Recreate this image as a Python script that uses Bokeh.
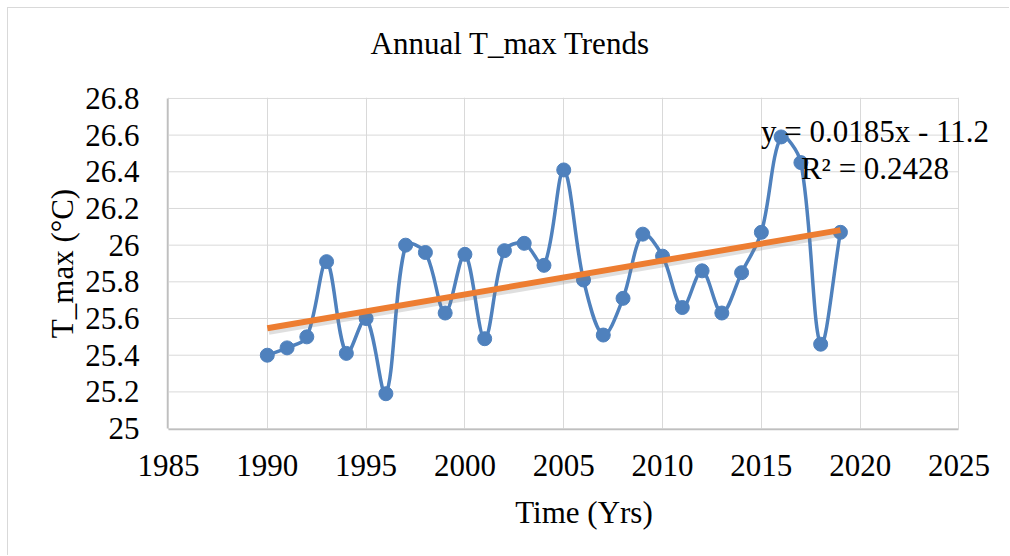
import numpy as np
from bokeh.plotting import figure
from bokeh.models import FixedTicker, Label, NumeralTickFormatter, ColumnDataSource, Title
from bokeh.embed import file_html
from bokeh.resources import INLINE

# ---- data ----
years = list(range(1990, 2020))
tmax = [25.40, 25.44, 25.50, 25.91, 25.41, 25.60, 25.19, 26.00, 25.96, 25.63,
        25.95, 25.49, 25.97, 26.01, 25.89, 26.41, 25.81, 25.51, 25.71, 26.06,
        25.94, 25.66, 25.86, 25.63, 25.85, 26.07, 26.59, 26.45, 25.46, 26.07]
x_ticks = [1985, 1990, 1995, 2000, 2005, 2010, 2015, 2020, 2025]
y_ticks = [25.0, 25.2, 25.4, 25.6, 25.8, 26.0, 26.2, 26.4, 26.6, 26.8]
title_text = "Annual T_max Trends"
x_label = "Time (Yrs)"
y_label = "T_max (°C)"
eq_text = "y = 0.0185x - 11.2"
r2_text = "R² = 0.2428"

FONT = "'Liberation Serif', 'Times New Roman', serif"
FS = "31px"
BLUE = "#4F81BD"
ORANGE = "#ED7D31"
GRID = "#d9d9d9"
AXIS = "#bfbfbf"

p = figure(width=1002, height=548, output_backend="svg", toolbar_location=None,
           x_range=(x_ticks[0] - 0.05, x_ticks[-1] + 2.1),
           y_range=(y_ticks[0] - 0.005, y_ticks[-1] + 0.005),
           min_border_left=159, min_border_right=10, min_border_top=89,
           min_border_bottom=127)
p.styles = {"margin-left": "7px", "margin-top": "7px",
            "border-left": "1px solid #d9d9d9", "border-top": "1px solid #d9d9d9"}

# spacer between the title and the plot area
p.add_layout(Title(text=" ", text_font_size="1px", standoff=34), "above")

p.title.text = title_text
p.title.text_font = FONT
p.title.text_font_size = FS
p.title.text_font_style = "normal"
p.title.text_color = "black"
p.title.align = "left"
p.title.offset = 203
p.title.standoff = 0

p.outline_line_color = None

for ax in (p.xaxis[0], p.yaxis[0]):
    ax.axis_line_color = AXIS
    ax.axis_line_width = 1.5
    ax.major_tick_line_color = None
    ax.minor_tick_line_color = None
    ax.major_tick_out = 0
    ax.major_tick_in = 0
    ax.minor_tick_out = 0
    ax.major_label_text_font = FONT
    ax.major_label_text_font_size = FS
    ax.major_label_text_color = "black"
    ax.axis_label_text_font = FONT
    ax.axis_label_text_font_size = FS
    ax.axis_label_text_font_style = "normal"
    ax.axis_label_text_color = "black"

p.xaxis.ticker = FixedTicker(ticks=x_ticks)
p.yaxis.ticker = FixedTicker(ticks=y_ticks)
p.xaxis.bounds = (x_ticks[0], x_ticks[-1])
p.yaxis.bounds = (y_ticks[0], y_ticks[-1])
p.yaxis.formatter = NumeralTickFormatter(format="0.[0]")
p.xaxis.formatter = NumeralTickFormatter(format="0")
p.xaxis.axis_label = x_label
p.yaxis.axis_label = y_label
p.yaxis.major_label_standoff = 28
p.xaxis.major_label_standoff = 25
p.yaxis.axis_label_standoff = 2
p.xaxis.axis_label_standoff = 16

# vertical gridlines via the grid, horizontal gridlines limited to the axis span
p.xgrid.grid_line_color = GRID
p.xgrid.grid_line_width = 1
p.xgrid.bounds = (y_ticks[0], y_ticks[-1])
p.ygrid.grid_line_color = None
p.segment(x0=[x_ticks[0]] * len(y_ticks), x1=[x_ticks[-1]] * len(y_ticks),
          y0=y_ticks, y1=y_ticks, line_color=GRID, line_width=1, level="underlay")

# ---- smoothed series line (length-weighted Bezier smoothing, in screen proportions) ----
sx = 791.0 / (x_ticks[-1] - x_ticks[0])   # px per year
sy = 330.0 / (y_ticks[-1] - y_ticks[0])   # px per degree
P = np.column_stack([np.array(years, float) * sx, np.array(tmax, float) * sy])
n = len(P)
f = 1.0 / 3.0
x0, y0, x1, y1, cx0, cy0, cx1, cy1 = [], [], [], [], [], [], [], []
for i in range(n - 1):
    A = P[max(i - 1, 0)]; B = P[i]; C = P[i + 1]; D = P[min(i + 2, n - 1)]
    dAB = np.hypot(*(B - A)); dBC = np.hypot(*(C - B)); dCD = np.hypot(*(D - C))
    c1 = B + (C - A) * f * dBC / (dAB + dBC)
    c2 = C - (D - B) * f * dBC / (dBC + dCD)
    x0.append(B[0] / sx); y0.append(B[1] / sy)
    x1.append(C[0] / sx); y1.append(C[1] / sy)
    cx0.append(c1[0] / sx); cy0.append(c1[1] / sy)
    cx1.append(c2[0] / sx); cy1.append(c2[1] / sy)
bz = ColumnDataSource(dict(x0=x0, y0=y0, x1=x1, y1=y1, cx0=cx0, cy0=cy0, cx1=cx1, cy1=cy1))
p.bezier(x0="x0", y0="y0", x1="x1", y1="y1", cx0="cx0", cy0="cy0", cx1="cx1", cy1="cy1",
         source=bz, line_color=BLUE, line_width=3.5)
p.scatter(years, tmax, size=14, marker="circle", fill_color=BLUE, line_color=BLUE)

# ---- linear trendline from fit ----
xs = np.array(years, dtype=float)
ys = np.array(tmax, dtype=float)
slope, intercept = np.polyfit(xs, ys, 1)
tx = np.array([xs[0], xs[-1]])
ty = slope * tx + intercept
p.line(tx + 1.5 / sx, ty - 3 / sy, line_color="#7f7f7f", line_width=7, line_alpha=0.25)
p.line(tx, ty, line_color=ORANGE, line_width=6)

p.add_layout(Label(x=2020.75, y=26.62, text=eq_text, text_align="center",
                   text_baseline="middle", text_font=FONT, text_font_size=FS,
                   text_color="black"))
p.add_layout(Label(x=2020.75, y=26.42, text=r2_text, text_align="center",
                   text_baseline="middle", text_font=FONT, text_font_size=FS,
                   text_color="black"))

open("out.html", "w").write(file_html(p, INLINE))
